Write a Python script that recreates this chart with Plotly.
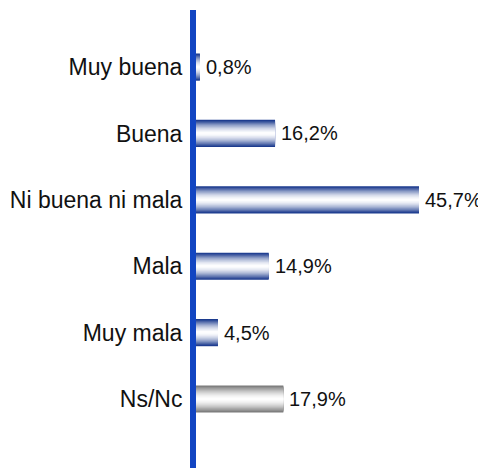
import plotly.graph_objects as go

categories = ["Muy buena", "Buena", "Ni buena ni mala", "Mala", "Muy mala", "Ns/Nc"]
values = [0.8, 16.2, 45.7, 14.9, 4.5, 17.9]
labels = ["0,8%", "16,2%", "45,7%", "14,9%", "4,5%", "17,9%"]

DARK_BLUE = (27, 58, 142)
DARK_GRAY = (122, 122, 122)
FONT = "Liberation Sans, Arial, sans-serif"


def mix(c, f):
    return "rgb(%d,%d,%d)" % tuple(round(255 + (ch - 255) * f) for ch in c)


fig = go.Figure()
full_w = 0.41
N = 16
for i in range(N):
    d = 1 - i / N
    w = full_w * d
    f = min(1.0, d ** 1.7 * 1.05)
    cols = [mix(DARK_GRAY, f) if c == "Ns/Nc" else mix(DARK_BLUE, f) for c in categories]
    fig.add_trace(go.Bar(
        x=values, y=categories, orientation="h", width=w,
        marker=dict(color=cols, line=dict(width=0)),
        hoverinfo="skip", showlegend=False,
    ))

for v, c, t in zip(values, categories, labels):
    fig.add_annotation(
        x=v, y=c, text=t, showarrow=False, xanchor="left", yanchor="middle",
        xshift=4, font=dict(family=FONT, size=20, color="#111111"),
    )

fig.update_layout(
    width=486, height=468,
    margin=dict(l=188, r=0, t=2, b=0),
    barmode="overlay",
    plot_bgcolor="white", paper_bgcolor="white",
    xaxis=dict(range=[0, 61.07], visible=False, showgrid=False, zeroline=False),
    yaxis=dict(
        categoryorder="array", categoryarray=categories,
        range=[6.16, -0.86],
        showline=True, linecolor="#1245c2", linewidth=6,
        ticks="", showgrid=False, zeroline=False,
        ticklabelstandoff=3, automargin=False,
        tickfont=dict(family=FONT, size=23, color="#111111"),
    ),
)

fig.write_html("out.html")
